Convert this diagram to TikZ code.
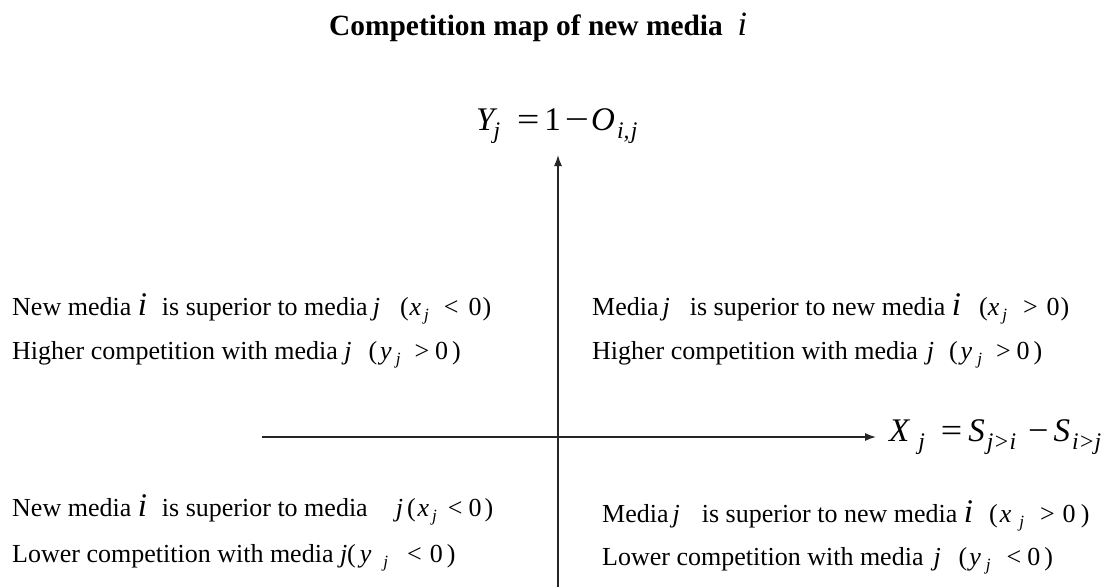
\documentclass[tikz,border=0pt]{standalone}
\usepackage{fontspec}
\setmainfont{Liberation Serif}
\usetikzlibrary{arrows.meta}
% subscript for the quadrant texts
\newcommand\sj{\raisebox{-0.2em}{\scalebox{0.66}{\itshape j}}}
% subscript for the axis labels
\newcommand\subsY[1]{\raisebox{-0.27em}{\scalebox{0.72}{\itshape #1}}}
\newcommand\bigi{{\fontsize{33}{33}\selectfont\itshape i}}
\newcommand\jj{{\itshape j}}
\newcommand\wide[2]{\scalebox{#1}[1]{#2}}
\tikzset{
  qtext/.style={anchor=base west, inner sep=0pt, font=\fontsize{26}{26}\selectfont},
  axis/.style={draw=black!85, line width=1.4pt},
  axarrow/.style={axis, -{Latex[length=11pt,width=8pt]}},
  eq/.style={anchor=base west, inner sep=0pt, font=\fontsize{33}{33}\selectfont},
}
\begin{document}
\begin{tikzpicture}[x=1pt,y=-1pt]
\useasboundingbox[fill=white] (0,0) rectangle (1104,587);
% title
\node[anchor=base west, inner sep=0pt, font=\fontsize{29.4}{29.4}\selectfont\bfseries] (title) at (329,35)
  {Competition map of new media\hspace{0.5em}{\mdseries\fontsize{34}{34}\selectfont\itshape i}};
% axes
\coordinate (vb) at (558,587);
\coordinate (vt) at (558,155);
\coordinate (hl) at (262,437);
\coordinate (hr) at (876,437);
\draw[axarrow] (vb) -- (vt);
\draw[axarrow] (hl) -- (hr);
% axis labels
\node[eq] (ylab) at (476,130)
  {\itshape Y\hspace{-1pt}\subsY{j}\hspace{17pt}\upshape\wide{1.2}{=}\hspace{5pt}1\hspace{4pt}\wide{1.3}{−}\hspace{2pt}\itshape O\hspace{2pt}\subsY{i,\hspace{2pt}j}};
\node[eq] (xlab) at (889,441)
  {\itshape X\hspace{9pt}\subsY{j}\hspace{16pt}\upshape\wide{1.15}{=}\hspace{6pt}\itshape S\hspace{2pt}\subsY{j>i}\hspace{12pt}\upshape\wide{1.1}{−}\hspace{5pt}\itshape S\hspace{2pt}\subsY{i>j}};
% top left
\node[qtext] (tl1) at (12,315)
  {New media \bigi\hspace{15pt}is superior to media\hspace{5pt}\jj\hspace{20pt}(\hspace{1pt}\textit{x}\hspace{3pt}\sj\hspace{15pt}<\hspace{10pt}0\hspace{1pt})};
\node[qtext] (tl2) at (12,359)
  {Higher competition with media \jj\hspace{17pt}(\hspace{3pt}\textit{y}\hspace{4pt}\sj\hspace{14pt}>\hspace{6pt}0\hspace{4pt})};
% top right
\node[qtext] (tr1) at (592,315)
  {Media\hspace{4pt}\jj\hspace{20pt}is superior to new media \bigi\hspace{18pt}(\textit{x}\hspace{3pt}\sj\hspace{16pt}>\hspace{9pt}0\hspace{1pt})};
\node[qtext] (tr2) at (592,359)
  {Higher competition with media\hspace{9pt}\jj\hspace{15pt}(\hspace{3pt}\textit{y}\hspace{5pt}\sj\hspace{14pt}>\hspace{6pt}0\hspace{4pt})};
% bottom left
\node[qtext] (bl1) at (12,516)
  {New media \bigi\hspace{15pt}is superior to media\hspace{28pt}\jj\hspace{4pt}(\hspace{2pt}\textit{x}\hspace{3pt}\sj\hspace{11pt}<\hspace{6pt}0\hspace{3pt})};
\node[qtext] (bl2) at (12,562)
  {Lower competition with media \jj(\hspace{4pt}\textit{y}\hspace{12pt}\sj\hspace{19pt}<\hspace{8pt}0\hspace{4pt})};
% bottom right
\node[qtext] (br1) at (602,522)
  {Media\hspace{4pt}\jj\hspace{22pt}is superior to new media \bigi\hspace{16pt}(\hspace{2pt}\textit{x}\hspace{8pt}\sj\hspace{16pt}>\hspace{8pt}0\hspace{5pt})};
\node[qtext] (br2) at (602,565)
  {Lower competition with media\hspace{10pt}\jj\hspace{18pt}(\hspace{2pt}\textit{y}\hspace{5pt}\sj\hspace{16pt}<\hspace{6pt}0\hspace{4pt})};
\end{tikzpicture}
\end{document}
